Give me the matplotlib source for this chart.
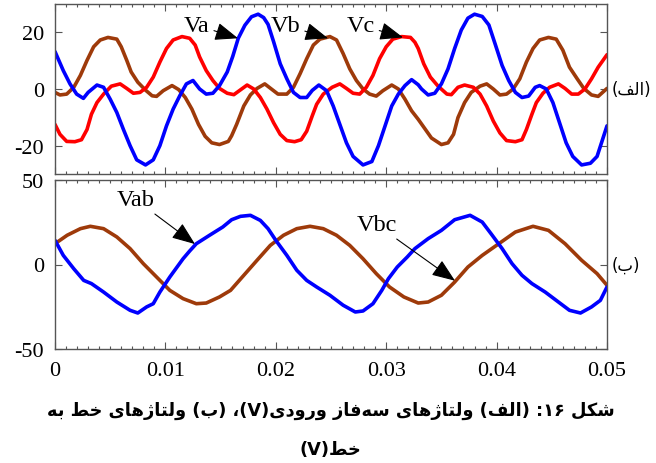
import re
import matplotlib
matplotlib.use("Agg")
import matplotlib.pyplot as plt
from matplotlib.ticker import MultipleLocator, FuncFormatter

plt.rcParams["font.family"] = ["Liberation Serif", "DejaVu Serif"]
plt.rcParams["axes.unicode_minus"] = False

# ---------------- phase voltages (V) ----------------
t_va = [0.0, 0.00075, 0.00136, 0.00196, 0.00257, 0.0030, 0.0038, 0.0044, 0.0050, 0.0056,
        0.0062, 0.0068, 0.0074, 0.0082, 0.0089, 0.0095, 0.0101, 0.0107, 0.0113, 0.0119,
        0.0125, 0.0131, 0.0137, 0.0143, 0.0149, 0.0156, 0.0161, 0.0166, 0.0172, 0.0178,
        0.0184, 0.0189, 0.0193, 0.0198, 0.0204, 0.0210, 0.0216, 0.0222, 0.0228, 0.0233,
        0.0239, 0.0246, 0.0252, 0.0258, 0.0264, 0.0270, 0.0279, 0.0287, 0.0293, 0.0299,
        0.0305, 0.0311, 0.0317, 0.0323, 0.0329, 0.0332, 0.0338, 0.0344, 0.0350, 0.0356,
        0.0362, 0.0368, 0.0374, 0.0380, 0.0387, 0.0393, 0.0399, 0.0405, 0.0411, 0.0417,
        0.0423, 0.0429, 0.0435, 0.0439, 0.0445, 0.0451, 0.0457, 0.0463, 0.0469, 0.0477,
        0.0485, 0.0491, 0.0495, 0.0500]
va = [13.2, 6.5, 1.8, -1.8, -3.3, -1.2, 1.4, 0.6, -3.6, -8.3,
      -14.3, -20.0, -25.0, -26.8, -25.0, -20.0, -13.0, -7.1, -2.4, 1.8,
      3.0, 0.0, -1.8, -1.5, 1.2, 6.0, 11.5, 17.9, 22.5, 25.5,
      26.4, 25.2, 22.8, 16.7, 8.9, 3.6, -1.2, -3.0, -3.0, -0.5,
      1.4, -0.6, -6.0, -12.5, -19.0, -23.8, -26.8, -25.6, -20.0, -13.0,
      -6.0, -1.8, 1.2, 3.3, 1.5, 0.0, -2.1, -1.5, 1.8, 7.1,
      14.3, 20.8, 25.0, 26.4, 25.6, 22.6, 15.5, 8.3, 3.0, -1.2,
      -3.0, -2.5, 0.6, 1.2, 0.0, -4.8, -11.9, -19.0, -23.8, -26.8,
      -26.2, -23.8, -19.0, -13.0]

t_vb = [0.0, 0.00045, 0.00106, 0.0017, 0.0023, 0.0029, 0.0035, 0.0041, 0.0048, 0.0056,
        0.0060, 0.0065, 0.0069, 0.0075, 0.0082, 0.0088, 0.0092, 0.0098, 0.0106, 0.0112,
        0.0118, 0.0124, 0.0130, 0.0136, 0.0142, 0.0149, 0.0157, 0.0160, 0.01645, 0.0171,
        0.0177, 0.0183, 0.0190, 0.0196, 0.0202, 0.0210, 0.0216, 0.0222, 0.0228, 0.0234,
        0.0240, 0.0249, 0.0255, 0.0261, 0.0267, 0.0273, 0.0279, 0.0285, 0.0291, 0.0297,
        0.0305, 0.0311, 0.0317, 0.0323, 0.0329, 0.0335, 0.0341, 0.0350, 0.0356, 0.0361,
        0.0365, 0.0371, 0.0377, 0.0385, 0.0391, 0.0397, 0.0403, 0.0409, 0.0415, 0.0421,
        0.0427, 0.0433, 0.0439, 0.0447, 0.0454, 0.0460, 0.0466, 0.0473, 0.0479, 0.0486,
        0.0492, 0.0500]
vb = [-1.2, -2.1, -1.8, 0.6, 4.8, 10.1, 14.9, 17.3, 18.2, 17.6,
      14.9, 10.1, 6.0, 2.4, -0.4, -2.4, -2.6, -0.6, 1.2, -0.2,
      -3.0, -7.1, -12.5, -16.7, -19.0, -19.6, -18.5, -16.5, -12.5, -6.0,
      -2.1, 0.2, 1.8, 0.0, -1.8, -1.8, 0.6, 5.4, 10.7, 15.5,
      17.6, 18.5, 17.3, 12.5, 7.1, 3.0, 0.0, -1.8, -2.5, -0.6,
      1.4, 0.0, -3.6, -7.7, -10.7, -14.0, -17.3, -19.6, -19.0, -16.0,
      -10.1, -4.8, -1.2, 1.0, 1.8, 0.0, -2.1, -1.8, 0.0, 3.6,
      9.5, 14.3, 17.3, 18.2, 17.6, 13.7, 7.7, 3.6, 0.2, -2.1,
      -2.6, 0.2]

t_vc = [0.0, 0.00045, 0.00106, 0.0018, 0.0024, 0.0029, 0.0033, 0.0038, 0.0044, 0.0051,
        0.0059, 0.0065, 0.0071, 0.0077, 0.0083, 0.0089, 0.0095, 0.0101, 0.0107, 0.0115,
        0.0122, 0.0127, 0.0131, 0.0137, 0.0143, 0.0149, 0.0156, 0.0162, 0.0168, 0.0174,
        0.0180, 0.0186, 0.0192, 0.0198, 0.0204, 0.0210, 0.0217, 0.0223, 0.0228, 0.0233,
        0.0237, 0.0243, 0.0251, 0.0258, 0.0264, 0.0270, 0.0276, 0.0282, 0.0288, 0.0294,
        0.0300, 0.0306, 0.0314, 0.0322, 0.0326, 0.0329, 0.0334, 0.0340, 0.0347, 0.0355,
        0.0359, 0.0365, 0.0371, 0.0379, 0.0385, 0.0391, 0.0397, 0.0403, 0.0409, 0.0417,
        0.0423, 0.0427, 0.0432, 0.0436, 0.0442, 0.0448, 0.0456, 0.0462, 0.0468, 0.0474,
        0.0480, 0.0486, 0.0492, 0.0500]
vc = [-12.5, -16.0, -18.5, -18.6, -17.9, -14.3, -8.9, -4.8, -1.8, 1.0,
      1.8, 0.2, -1.5, -1.2, 0.6, 4.2, 9.5, 14.3, 17.3, 18.5,
      17.9, 15.5, 11.3, 6.5, 3.0, 0.2, -1.5, -2.0, -0.3, 1.4,
      0.0, -3.0, -7.1, -11.9, -16.0, -18.2, -18.6, -17.9, -14.9, -9.5,
      -5.4, -1.8, 0.6, 1.8, 0.2, -1.5, -1.8, 0.6, 4.8, 10.7,
      14.9, 17.6, 18.5, 18.2, 16.5, 14.3, 8.9, 4.2, 1.0, -1.8,
      -2.0, 0.6, 1.4, 0.6, -1.8, -6.0, -11.3, -15.5, -18.2, -18.6,
      -17.9, -14.3, -8.9, -4.8, -1.5, 0.6, 1.8, 0.2, -1.8, -1.8,
      0.0, 3.6, 7.7, 12.1]

# ---------------- line-to-line voltages (V) ----------------
t_vab = [0.0, 0.00075, 0.0017, 0.0026, 0.0033, 0.0044, 0.0056, 0.0068, 0.0075, 0.0083,
         0.0089, 0.0095, 0.0104, 0.0116, 0.0122, 0.0128, 0.0140, 0.0152, 0.0160, 0.0168,
         0.0177, 0.0186, 0.0193, 0.0200, 0.0210, 0.0219, 0.0228, 0.0237, 0.0249, 0.0261,
         0.0272, 0.0279, 0.0288, 0.0296, 0.0302, 0.0310, 0.0319, 0.0326, 0.0338, 0.0350,
         0.0362, 0.0376, 0.0387, 0.0395, 0.0405, 0.0414, 0.0423, 0.0432, 0.0444, 0.0456,
         0.0466, 0.0476, 0.0486, 0.0494, 0.0500]
vab = [14.3, 5.4, -2.5, -9.4, -11.3, -16.3, -22.2, -27.1, -28.7, -25.1,
       -23.2, -16.3, -7.4, 3.4, 8.0, 12.3, 17.3, 22.2, 26.5, 28.5,
       29.1, 26.1, 21.2, 14.3, 5.4, -3.4, -9.4, -13.3, -18.2, -24.1,
       -28.1, -27.5, -23.2, -15.3, -8.4, -1.5, 4.4, 9.4, 15.3, 20.2,
       26.5, 29.1, 25.1, 18.2, 9.4, 0.5, -6.4, -11.3, -16.3, -22.2,
       -27.1, -28.7, -25.1, -21.2, -13.3]

t_vbc = [0.0, 0.0011, 0.0023, 0.0032, 0.0044, 0.0056, 0.0068, 0.0080, 0.0092, 0.0104,
         0.0116, 0.0128, 0.0137, 0.0149, 0.0159, 0.0171, 0.0183, 0.0195, 0.0207, 0.0219,
         0.0231, 0.0243, 0.0255, 0.0267, 0.0279, 0.0291, 0.0303, 0.0316, 0.0329, 0.0338,
         0.0350, 0.0362, 0.0374, 0.0387, 0.0402, 0.0417, 0.0433, 0.0447, 0.0462, 0.0477,
         0.0491, 0.0500]
vbc = [12.3, 17.3, 21.2, 22.6, 21.2, 16.3, 9.4, 0.5, -7.4, -15.3,
       -20.2, -23.2, -22.8, -19.2, -15.3, -6.4, 2.5, 11.3, 17.3, 21.2,
       22.6, 21.2, 17.3, 11.3, 3.4, -5.4, -13.3, -19.2, -22.8, -22.2,
       -18.2, -10.4, -1.5, 5.4, 12.3, 19.2, 22.6, 20.2, 12.3, 2.5,
       -5.4, -12.3]

x_ticks = [0, 0.01, 0.02, 0.03, 0.04, 0.05]
y_ticks_top = [-20, 0, 20]
y_ticks_bottom = [-50, 0, 50]

BLUE = "#0000FF"
RED = "#FF0000"
BROWN = "#9E3A0A"

# ---------------- Persian text helpers ----------------
# isolated, final, initial, medial presentation forms
ARABIC_FORMS = {
    "ا": ("\ufe8d", "\ufe8e", None, None),
    "ب": ("\ufe8f", "\ufe90", "\ufe91", "\ufe92"),
    "ت": ("\ufe95", "\ufe96", "\ufe97", "\ufe98"),
    "خ": ("\ufea5", "\ufea6", "\ufea7", "\ufea8"),
    "د": ("\ufea9", "\ufeaa", None, None),
    "ر": ("\ufead", "\ufeae", None, None),
    "ز": ("\ufeaf", "\ufeb0", None, None),
    "س": ("\ufeb1", "\ufeb2", "\ufeb3", "\ufeb4"),
    "ش": ("\ufeb5", "\ufeb6", "\ufeb7", "\ufeb8"),
    "ط": ("\ufec1", "\ufec2", "\ufec3", "\ufec4"),
    "ف": ("\ufed1", "\ufed2", "\ufed3", "\ufed4"),
    "ل": ("\ufedd", "\ufede", "\ufedf", "\ufee0"),
    "ه": ("\ufee9", "\ufeea", "\ufeeb", "\ufeec"),
    "و": ("\ufeed", "\ufeee", None, None),
    "ژ": ("\ufb8a", "\ufb8b", None, None),
    "ک": ("\ufb8e", "\ufb8f", "\ufb90", "\ufb91"),
    "ی": ("\ufbfc", "\ufbfd", "\ufbfe", "\ufbff"),
}


def rtl(text):
    """Shape Persian letters and return the line in visual (left-to-right) order."""
    chars = list(text)
    out = []
    for i, c in enumerate(chars):
        forms = ARABIC_FORMS.get(c)
        if forms is None:
            out.append(c)
            continue
        prev = chars[i - 1] if i > 0 else ""
        nxt = chars[i + 1] if i + 1 < len(chars) else ""
        joins_prev = prev in ARABIC_FORMS and ARABIC_FORMS[prev][2] is not None
        joins_next = forms[2] is not None and nxt in ARABIC_FORMS
        if joins_prev and joins_next:
            out.append(forms[3])
        elif joins_prev:
            out.append(forms[1])
        elif joins_next:
            out.append(forms[2])
        else:
            out.append(forms[0])
    s = "".join(ch for ch in out if ch != "\u200c")[::-1]
    s = s.translate(str.maketrans("()", ")("))
    s = re.sub(r"[A-Za-z0-9\u06f0-\u06f9]+", lambda m: m.group(0)[::-1], s)
    return s


# ---------------- figure ----------------
fig = plt.figure(figsize=(6.56, 4.64), dpi=100)
W, H = 656.0, 464.0
ax1 = fig.add_axes([55 / W, 289 / H, 552 / W, 170 / H])
ax2 = fig.add_axes([55 / W, 114 / H, 552 / W, 169 / H])

line_kw = dict(lw=2.6, solid_joinstyle="round", solid_capstyle="round")
ax1.plot(t_vb, vb, color=BROWN, **line_kw)
ax1.plot(t_vc, vc, color=RED, **line_kw)
ax1.plot(t_va, va, color=BLUE, **line_kw)
ax2.plot(t_vbc, vbc, color=BROWN, **line_kw)
ax2.plot(t_vab, vab, color=BLUE, **line_kw)

FRAME = "#555555"
for ax in (ax1, ax2):
    ax.set_xlim(0, 0.05)
    ax.set_xticks(x_ticks)
    ax.xaxis.set_minor_locator(MultipleLocator(0.001))
    ax.xaxis.set_major_formatter(FuncFormatter(lambda v, _: "0" if abs(v) < 1e-12 else f"{v:.2f}"))
    ax.tick_params(which="both", direction="in", top=True, right=True,
                   color=FRAME, labelcolor="black", labelsize=16, width=0.8)
    ax.tick_params(which="major", length=5)
    ax.tick_params(which="minor", length=2.5)
    ax.tick_params(axis="y", pad=8)
    ax.tick_params(axis="x", pad=9)
    for sp in ax.spines.values():
        sp.set_color(FRAME)
        sp.set_linewidth(1.0)

ax1.set_ylim(-30, 30)
ax1.set_yticks(y_ticks_top)
ax1.tick_params(labelbottom=False)
ax2.set_ylim(-50, 50)
ax2.set_yticks(y_ticks_bottom)

arrow = dict(arrowstyle="-|>,head_length=0.9,head_width=0.35", mutation_scale=16,
             color="black", lw=0.8, shrinkA=1, shrinkB=0)
ann_font = dict(fontsize=17.5, ha="center", va="center")
ax1.annotate("Va", xy=(0.01658, 17.9), xytext=(0.01286, 22.5), arrowprops=arrow, **ann_font)
ax1.annotate("Vb", xy=(0.02473, 17.9), xytext=(0.02092, 22.5), arrowprops=arrow, **ann_font)
ax1.annotate("Vc", xy=(0.03152, 18.2), xytext=(0.02772, 22.5), arrowprops=arrow, **ann_font)
ax2.annotate("Vab", xy=(0.01268, 12.1), xytext=(0.00734, 38.2), arrowprops=arrow, **ann_font)
ax2.annotate("Vbc", xy=(0.03623, -9.6), xytext=(0.02917, 23.4), arrowprops=arrow, **ann_font)

# panel tags on the right
ax1.text(1.008, 0, rtl("(الف)"), transform=ax1.get_yaxis_transform(),
         ha="left", va="center", fontsize=12, family=["DejaVu Sans"])
ax2.text(1.008, 0, rtl("(ب)"), transform=ax2.get_yaxis_transform(),
         ha="left", va="center", fontsize=12, family=["DejaVu Sans"])

# caption
line1 = rtl("شکل ۱۶: (الف) ولتاژهای سه\u200cفاز ورودی(V)، (ب) ولتاژهای خط به")
line2 = rtl("خط(V)")
cap1 = fig.text(330.5 / W, 1 - 411 / H, line1, ha="center", va="center",
                fontsize=13, fontweight="bold", family=["DejaVu Sans"])
cap2 = fig.text(330 / W, 1 - 450 / H, line2, ha="center", va="center",
                fontsize=13, fontweight="bold", family=["DejaVu Sans"])
fig.canvas.draw()
w1 = cap1.get_window_extent().width
size = 13 * 565.0 / w1
cap1.set_fontsize(size)
cap2.set_fontsize(size)

fig.savefig("out.png", dpi=100)
